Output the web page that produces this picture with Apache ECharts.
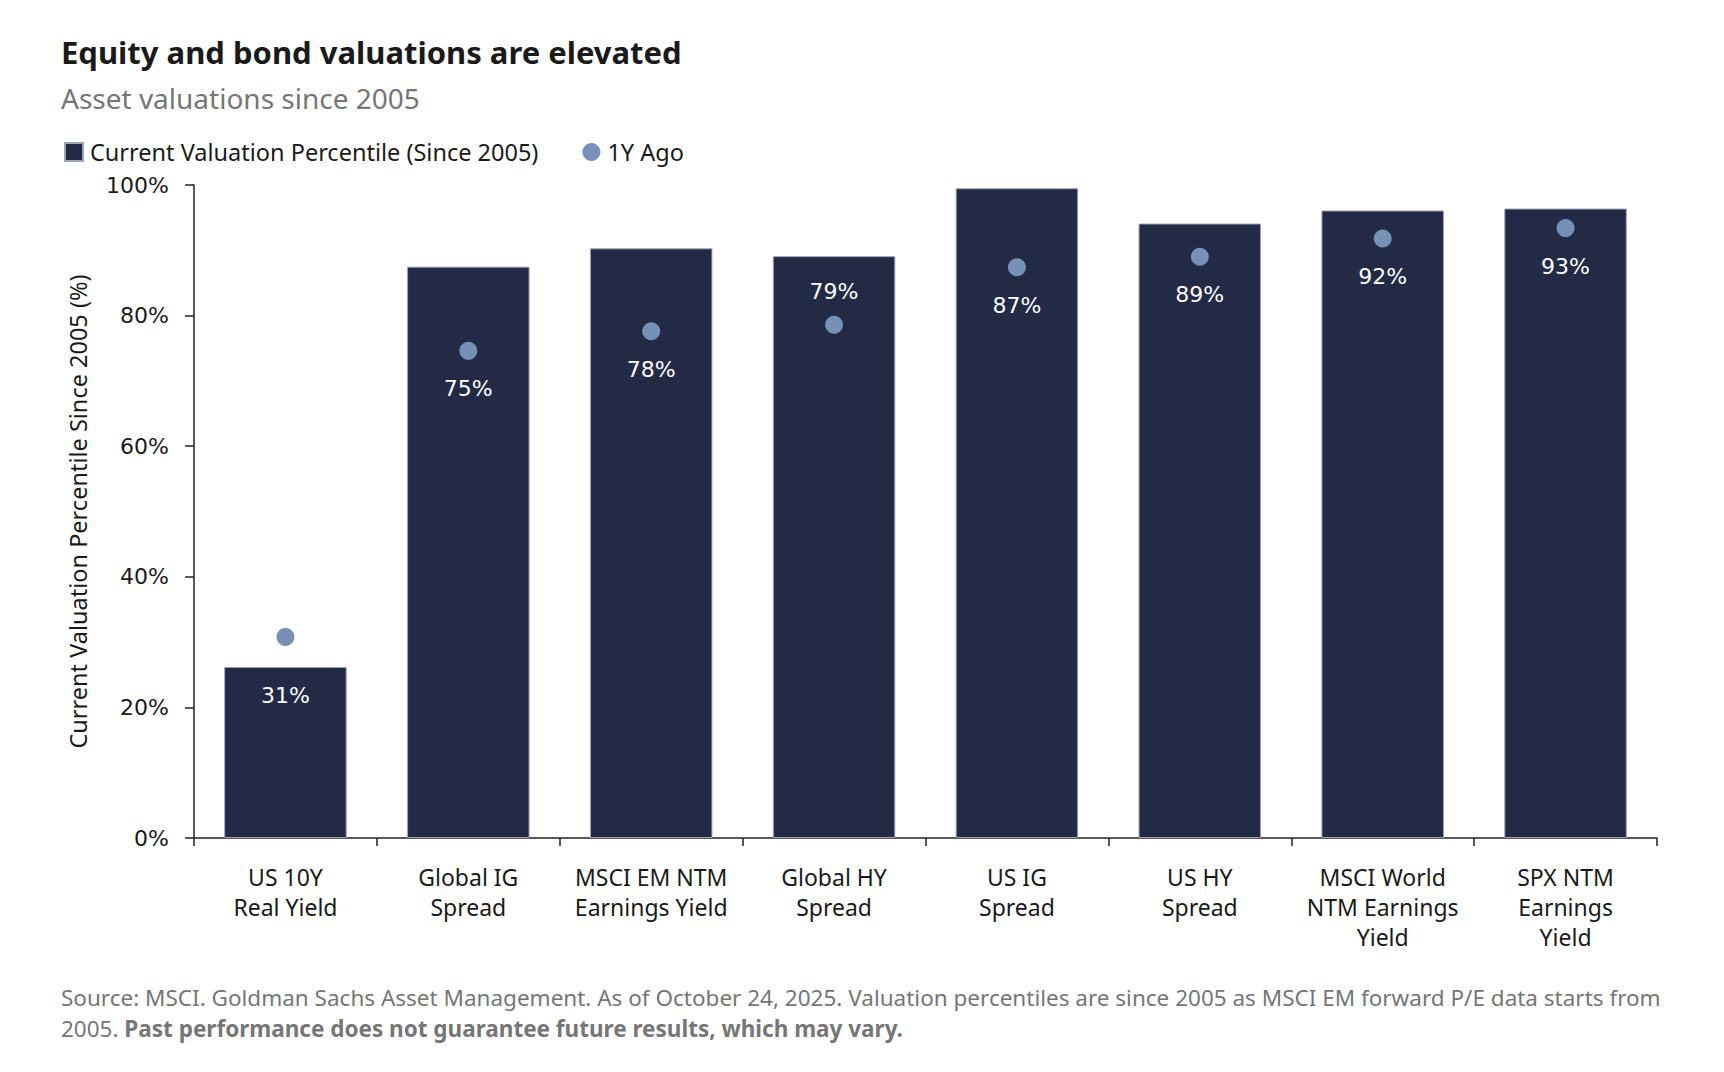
<!DOCTYPE html>
<html>
<head>
<meta charset="utf-8">
<script src="https://cdn.jsdelivr.net/npm/echarts@6/dist/echarts.min.js"></script>
<style>
html,body{margin:0;padding:0;background:#fff;}
#chart{width:1724px;height:1072px;}
</style>
</head>
<body>
<div id="chart"></div>
<script>
// ---- data ----
const categories = [
  'US 10Y\nReal Yield',
  'Global IG\nSpread',
  'MSCI EM NTM\nEarnings Yield',
  'Global HY\nSpread',
  'US IG\nSpread',
  'US HY\nSpread',
  'MSCI World\nNTM Earnings\nYield',
  'SPX NTM\nEarnings\nYield'
];
const currentPercentile = [26.2, 87.5, 90.3, 89.1, 99.5, 94.1, 96.1, 96.4];
const oneYearAgo = [30.8, 74.6, 77.6, 78.6, 87.4, 89.0, 91.8, 93.4];
const yTicks = [0, 20, 40, 60, 80, 100];

const titleText = 'Equity and bond valuations are elevated';
const subtitleText = 'Asset valuations since 2005';
const seriesNames = ['Current Valuation Percentile (Since 2005)', '1Y Ago'];
const yAxisName = 'Current Valuation Percentile Since 2005 (%)';
const footLine1 = 'Source: MSCI. Goldman Sachs Asset Management. As of October 24, 2025. Valuation percentiles are since 2005 as MSCI EM forward P/E data starts from';
const footLine2a = '2005. ';
const footLine2b = 'Past performance does not guarantee future results, which may vary.';

// ---- style ----
const SANS = '"Noto Sans", "Open Sans", sans-serif';
const NUM = '"DejaVu Sans", Verdana, sans-serif';
const BAR = '#222a46';
const DOT = '#7790b6';
const INK = '#1a1a1a';
const GREY = '#767676';

// label placement overrides (style, per index)
const labelOverride = {
  0: { position: 'bottom', distance: 39 },
  3: { position: 'top', distance: 13 }
};

const dotData = oneYearAgo.map((v, i) => {
  const item = { value: v };
  if (labelOverride[i]) item.label = labelOverride[i];
  return item;
});

const chart = echarts.init(document.getElementById('chart'), null, { renderer: 'svg' });

chart.setOption({
  backgroundColor: '#fff',
  animation: false,
  graphic: [
    { type: 'text', left: 61, top: 36, style: { text: titleText, font: 'bold 31px ' + SANS, fill: INK } },
    { type: 'text', left: 61, top: 83.5, style: { text: subtitleText, font: '28px ' + SANS, fill: GREY } },
    { type: 'text', left: 61, top: 986, style: { text: footLine1, font: '22.5px ' + SANS, fill: GREY } },
    { type: 'text', left: 61, top: 1017, style: {
        text: '{a|' + footLine2a + '}{b|' + footLine2b + '}',
        rich: {
          a: { fontFamily: SANS, fontSize: 22.5, fill: GREY, color: GREY },
          b: { fontFamily: SANS, fontSize: 22.5, fontWeight: 'bold', fill: GREY, color: GREY }
        }
      } }
  ],
  legend: {
    left: 64,
    top: 140,
    padding: 0,
    itemWidth: 18,
    itemHeight: 18,
    itemGap: 44,
    textStyle: { fontFamily: SANS, fontSize: 23.5, color: INK, padding: [0, 0, 0, 2] },
    data: [
      { name: seriesNames[0], icon: 'rect' },
      { name: seriesNames[1], icon: 'circle' }
    ]
  },
  grid: { left: 194, right: 67, top: 185, bottom: 234, containLabel: false },
  xAxis: {
    type: 'category',
    data: categories,
    boundaryGap: true,
    axisLine: { lineStyle: { color: '#222', width: 1.5 } },
    axisTick: { show: true, length: 8, alignWithLabel: false, lineStyle: { color: '#222', width: 1.5 } },
    axisLabel: { interval: 0, margin: 24, fontFamily: SANS, fontSize: 23, lineHeight: 30, color: INK },
    splitLine: { show: false }
  },
  yAxis: {
    type: 'value',
    min: yTicks[0],
    max: yTicks[yTicks.length - 1],
    interval: yTicks[1] - yTicks[0],
    name: yAxisName,
    nameLocation: 'middle',
    nameRotate: 90,
    nameGap: 104,
    nameTextStyle: { fontFamily: SANS, fontSize: 23.5, color: INK },
    axisLine: { show: true, lineStyle: { color: '#222', width: 1.5 } },
    axisTick: { show: true, length: 9, lineStyle: { color: '#222', width: 1.5 } },
    axisLabel: { margin: 25, fontFamily: NUM, fontSize: 22, color: INK, formatter: '{value}%' },
    splitLine: { show: false }
  },
  series: [
    {
      name: seriesNames[0],
      type: 'bar',
      data: currentPercentile,
      barWidth: '67%',
      itemStyle: { color: BAR, borderColor: '#9ea3b8', borderWidth: 1 },
      z: 2
    },
    {
      name: seriesNames[1],
      type: 'scatter',
      data: dotData,
      symbol: 'circle',
      symbolSize: 18,
      itemStyle: { color: DOT, opacity: 1 },
      label: {
        show: true,
        position: 'bottom',
        distance: 18,
        fontFamily: NUM,
        fontSize: 22,
        color: '#ffffff',
        formatter: p => Math.round(p.value) + '%'
      },
      z: 5
    }
  ]
});
</script>
</body>
</html>
